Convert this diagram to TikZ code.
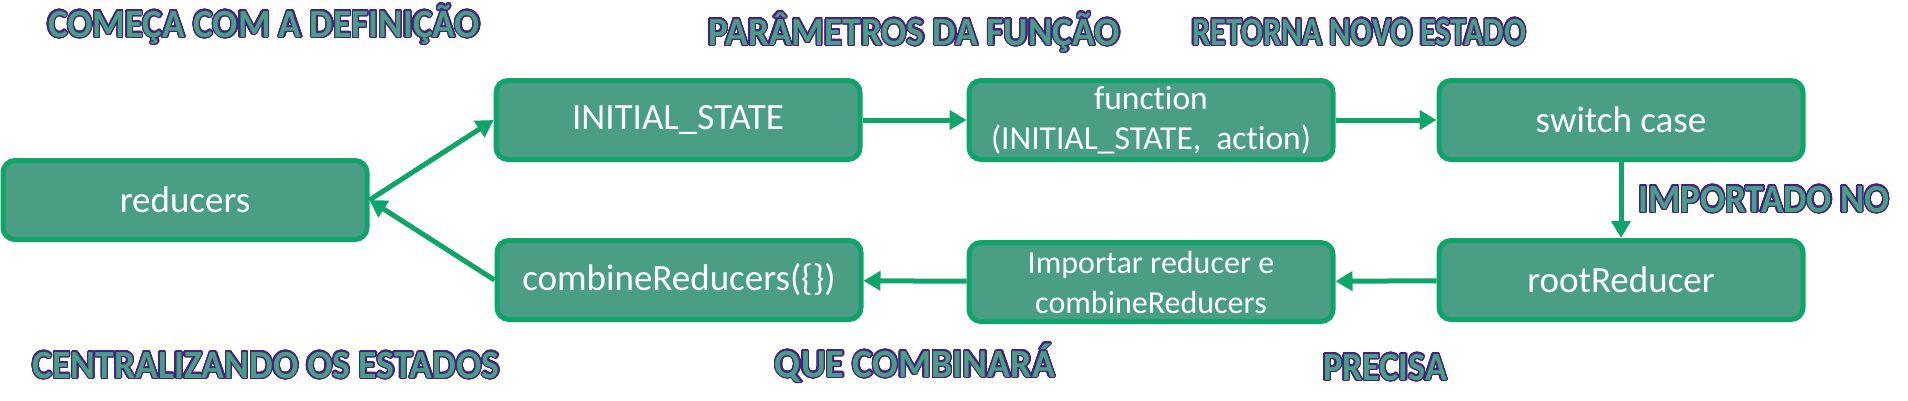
\documentclass[tikz,border=0pt]{standalone}
\usepackage{fontspec}
\setmainfont{Carlito}[Ligatures=NoCommon]
\usepackage{xcolor}
\usepackage{graphicx}
\usepackage[copies]{contour}
\usetikzlibrary{arrows.meta}

\definecolor{boxfill}{RGB}{74,158,132}
\definecolor{boxline}{RGB}{16,164,106}
\definecolor{tagline}{RGB}{70,32,130}
\contourlength{1.4pt}
\contournumber{32}
% outlined caption, stretched to a given width
\newcommand{\tagtext}[2]{\resizebox{#1}{\height}{\contour{tagline}{\textcolor{boxfill}{#2}}}}

\begin{document}
\begin{tikzpicture}[x=1pt, y=-1pt,
  stepbox/.style={draw=boxline, line width=5pt, fill=boxfill, rounded corners=12pt,
    minimum width=364pt, minimum height=79pt, inner sep=0pt, text=white,
    align=center, font=\fontsize{37}{40}\selectfont},
  smallbox/.style={stepbox, font=\fontsize{32}{40}\selectfont},
  flow/.style={draw=boxline, line width=5pt, -{Triangle[length=17pt, width=19pt]}},
  tag/.style={anchor=base, inner sep=0pt, font=\fontsize{40}{44}\selectfont\bfseries}]
  \useasboundingbox (0, 0) rectangle (1908, 400);

  % boxes
  \node[stepbox] (reducers) at (185, 200) {reducers};
  \node[stepbox] (init) at (678, 120) {INITIAL\_STATE};
  \node[smallbox, font=\fontsize{33.5}{40}\selectfont] (func) at (1151, 120) {function\\(INITIAL\_STATE,\ \ action)};
  \node[stepbox] (switch) at (1621, 120) {switch case};
  \node[stepbox] (root) at (1621, 280) {rootReducer};
  \node[smallbox] (import) at (1151, 282) {Importar reducer e\\combineReducers};
  \node[stepbox] (combine) at (679, 280) {combineReducers(\{\})};

  % arrows
  \draw[flow] (reducers.east) -- (init.west);
  \draw[flow] (init) -- (func);
  \draw[flow] (func) -- (switch);
  \draw[flow] (switch) -- (root);
  \draw[flow] (root) -- (import);
  \draw[flow] (import) -- (combine);
  \draw[flow] (combine.west) -- (reducers.east);

  % labels
  \node[tag] (start) at (264, 37) {\tagtext{432pt}{COMEÇA COM A DEFINIÇÃO}};
  \node[tag] (params) at (914, 45) {\tagtext{412pt}{PARÂMETROS DA FUNÇÃO}};
  \node[tag] (back) at (1359, 45) {\tagtext{334pt}{RETORNA NOVO ESTADO}};
  \node[tag] (imported) at (1764, 212) {\tagtext{251pt}{IMPORTADO NO}};
  \node[tag] (central) at (266, 378) {\tagtext{467pt}{CENTRALIZANDO OS ESTADOS}};
  \node[tag] (combines) at (915, 377) {\tagtext{280pt}{QUE COMBINARÁ}};
  \node[tag] (needs) at (1385, 380) {\tagtext{124pt}{PRECISA}};
\end{tikzpicture}
\end{document}
